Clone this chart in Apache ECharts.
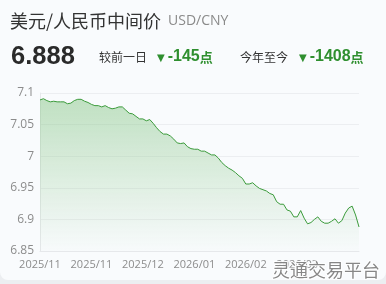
<!DOCTYPE html>
<html>
<head>
<meta charset="utf-8">
<script src="https://cdn.jsdelivr.net/npm/echarts@6/dist/echarts.min.js"></script>
<style>
  html, body { margin: 0; padding: 0; background: #eceef1; }
  #card { position: absolute; left: 0; top: 0; width: 386px; height: 280px; background: #f9fbfd; border-radius: 0 0 8px 8px; overflow: hidden; }
  #chart { position: absolute; left: 0; top: 0; width: 386px; height: 284px; }
</style>
</head>
<body>
<div id="card"></div>
<div id="chart"></div>
<script>
// Tick labels shown on the x axis (one every 15 trading days)
const tickLabels = ['2025/11', '2025/11', '2025/12', '2026/01', '2026/02', '2026/03'];
const labelStep = 15;

// USD/CNY central parity, daily
const values = [
  7.089, 7.091, 7.088, 7.086, 7.087, 7.086, 7.086, 7.086, 7.083, 7.084,
  7.088, 7.090, 7.090, 7.087, 7.085, 7.082, 7.080, 7.080, 7.078, 7.080,
  7.077, 7.075, 7.076, 7.078, 7.078, 7.073, 7.068, 7.067, 7.063, 7.059,
  7.059, 7.056, 7.058, 7.052, 7.045, 7.039, 7.035, 7.035, 7.032, 7.027,
  7.021, 7.020, 7.021, 7.015, 7.012, 7.011, 7.011, 7.008, 7.008, 7.005,
  7.002, 7.002, 6.997, 6.990, 6.985, 6.981, 6.978, 6.974, 6.969, 6.965,
  6.956, 6.956, 6.958, 6.953, 6.949, 6.947, 6.945, 6.941, 6.939, 6.928,
  6.924, 6.924, 6.915, 6.913, 6.904, 6.904, 6.914, 6.902, 6.893, 6.895,
  6.900, 6.904, 6.897, 6.894, 6.894, 6.897, 6.901, 6.894, 6.898, 6.910,
  6.918, 6.921, 6.907, 6.888
];

// Y axis ticks
const yTicks = [6.85, 6.9, 6.95, 7, 7.05, 7.1];

// Header texts
const titleText = '美元/人民币中间价';
const codeText = 'USD/CNY';
const lastText = '6.888';
const dayLabel = '较前一日';
const dayChange = '-145';
const ytdLabel = '今年至今';
const ytdChange = '-1408';
const unitText = '点';
const watermark = '灵通交易平台';

const categories = values.map((v, i) => (i % labelStep === 0 ? (tickLabels[i / labelStep] || '') : ''));

const chart = echarts.init(document.getElementById('chart'), null, { renderer: 'canvas' });
const green = '#2f8f2f';
const cjk = '"Noto Sans CJK SC", "Noto Sans", sans-serif';
const num = '"Liberation Sans", Arial, sans-serif';

function changeText(x, text) {
  return {
    type: 'text', x: x, y: 57,
    style: {
      text: '{t|▼}{n|' + text + '}{u|' + unitText + '}',
      verticalAlign: 'middle',
      rich: {
        t: { font: '10px "DejaVu Sans", sans-serif', fill: green, padding: [2, 3, 0, 0] },
        n: { font: 'bold 16px ' + num, fill: green },
        u: { font: 'bold 13px ' + cjk, fill: green }
      }
    }
  };
}

chart.setOption({
  backgroundColor: 'transparent',
  animation: false,
  grid: { left: 40, right: 27, top: 93, bottom: 33 },
  xAxis: {
    type: 'category',
    data: categories,
    boundaryGap: false,
    axisLine: { show: true, lineStyle: { color: '#e6e8eb' } },
    axisTick: { show: false },
    axisLabel: {
      interval: labelStep - 1,
      color: '#8c8c8c',
      fontSize: 11,
      fontFamily: '"Open Sans", "Noto Sans", sans-serif',
      margin: 8,
      showMaxLabel: false
    },
    splitLine: { show: false }
  },
  yAxis: {
    type: 'value',
    min: yTicks[0],
    max: yTicks[yTicks.length - 1],
    interval: 0.05,
    axisLine: { show: true, lineStyle: { color: '#e6e8eb' } },
    axisTick: { show: false },
    axisLabel: {
      color: '#8c8c8c',
      fontSize: 12,
      fontFamily: '"Open Sans", "Noto Sans", sans-serif',
      margin: 6,
      formatter: v => String(+v.toFixed(2))
    },
    splitLine: { show: true, lineStyle: { color: '#eceef1', width: 1 } }
  },
  series: [{
    type: 'line',
    data: values,
    symbol: 'none',
    smooth: false,
    lineStyle: { color: '#3a9a3a', width: 1 },
    areaStyle: {
      color: new echarts.graphic.LinearGradient(0, 0, 0, 1, [
        { offset: 0, color: 'rgba(135, 198, 135, 0.72)' },
        { offset: 1, color: 'rgba(140, 200, 140, 0.02)' }
      ])
    }
  }],
  graphic: [
    { type: 'text', x: 10, y: 21, style: { text: titleText, font: '18px ' + cjk, fill: '#333333', verticalAlign: 'middle' } },
    { type: 'text', x: 168, y: 21, style: { text: codeText, font: '14px "Open Sans", "Noto Sans", sans-serif', fill: '#8a8a8a', verticalAlign: 'middle' } },
    { type: 'text', x: 11, y: 57, style: { text: lastText, font: 'bold 25.5px ' + num, fill: '#2a2a2a', verticalAlign: 'middle' } },
    { type: 'text', x: 99, y: 57, style: { text: dayLabel, font: '12px ' + cjk, fill: '#333333', verticalAlign: 'middle' } },
    changeText(157, dayChange),
    { type: 'text', x: 240, y: 57, style: { text: ytdLabel, font: '12px ' + cjk, fill: '#333333', verticalAlign: 'middle' } },
    changeText(299, ytdChange),
    { type: 'text', x: 272, y: 270, z: 100, style: { text: watermark, font: '18px ' + cjk, fill: 'rgba(95, 95, 95, 0.75)', stroke: 'rgba(255,255,255,0.85)', lineWidth: 2, verticalAlign: 'middle' } }
  ]
});
</script>
</body>
</html>
